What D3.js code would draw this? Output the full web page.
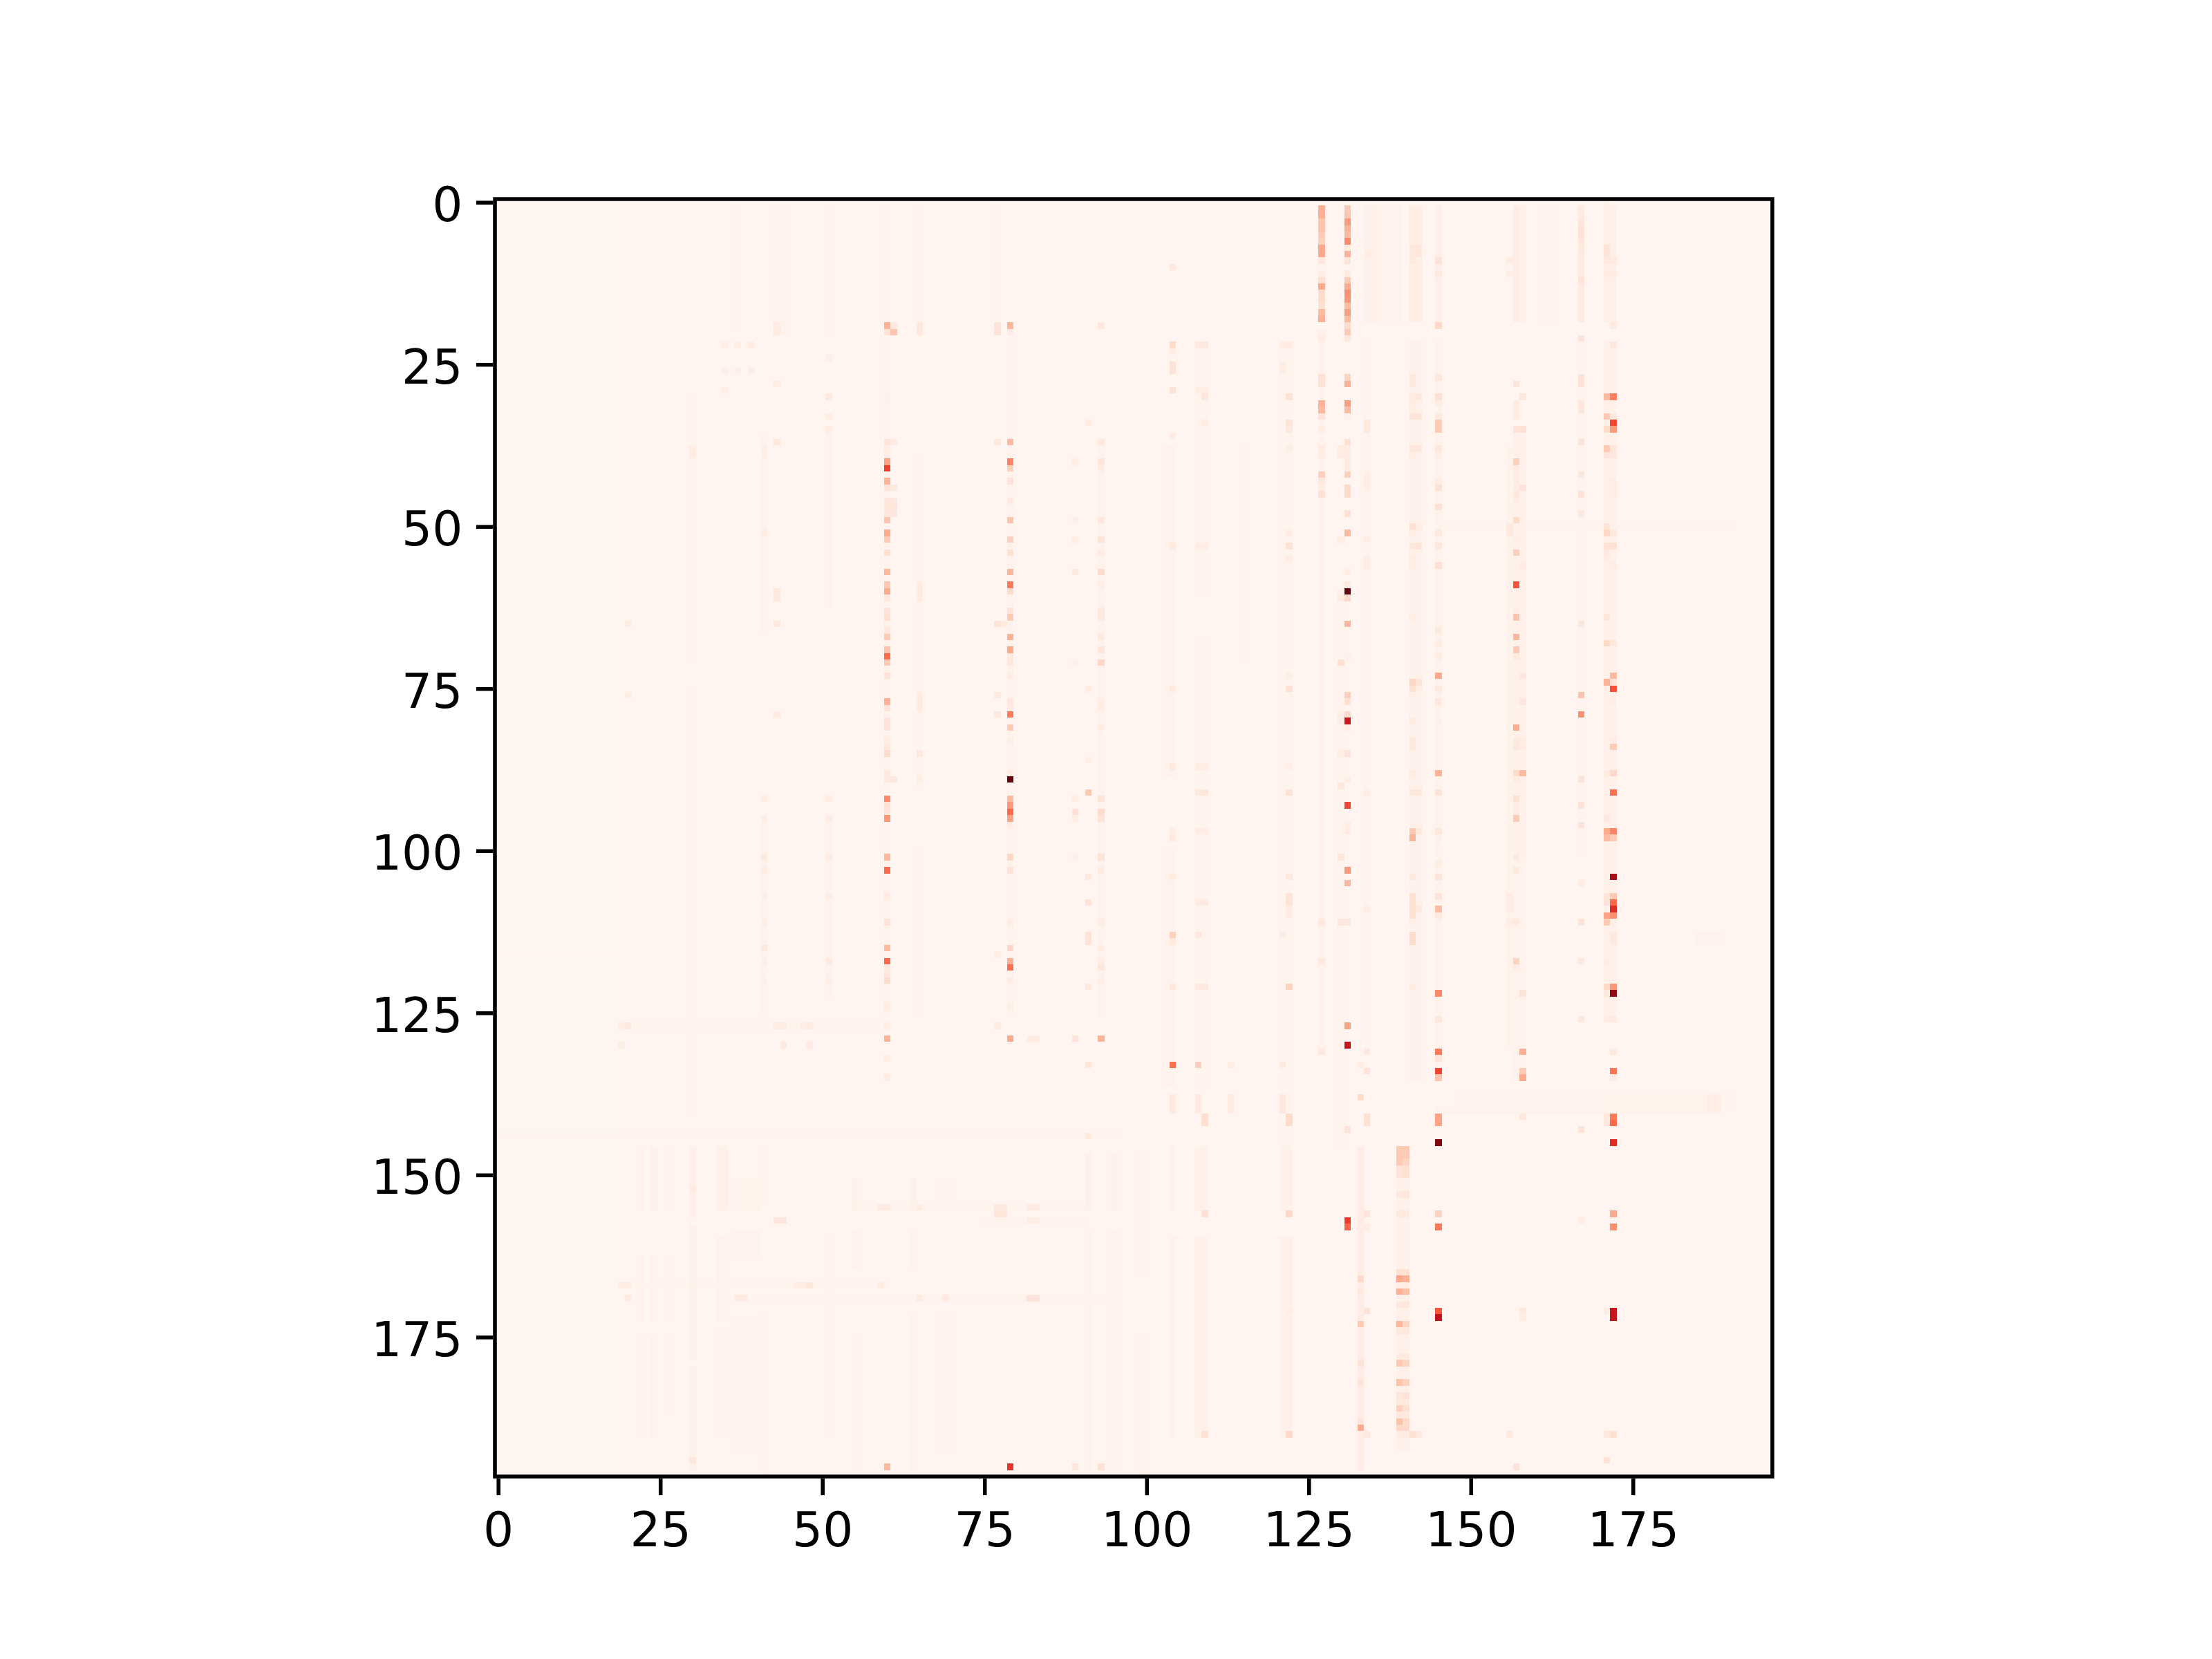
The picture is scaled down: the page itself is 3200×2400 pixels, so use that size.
<!DOCTYPE html>
<html>
<head>
<meta charset="utf-8">
<script src="https://cdn.jsdelivr.net/npm/d3@7"></script>
<style>
  html, body { margin: 0; padding: 0; background: #fff; }
  svg { display: block; }
  text { font-family: "DejaVu Sans", sans-serif; }
</style>
</head>
<body>
<svg id="chart" width="3200" height="2400"></svg>
<script>
// Matrix size and tick labels
const matrixSize = 197;
const tickLabels = [0, 25, 50, 75, 100, 125, 150, 175];

// Matplotlib "Reds" stops, evenly spaced on 0..1
const redsStops = ['#fff5f0', '#fee0d2', '#fcbba1', '#fc9272', '#fb6a4a', '#ef3b2c', '#cb181d', '#a50f15', '#67000d'];

// Faint blocks: [colFrom, colTo, rowFrom, rowTo, value]
const faintBlocks = [
  [20, 196, 0, 196, 0.005],
  // top rows
  [43, 44, 1, 20, 0.022], [37, 37, 1, 19, 0.01], [60, 60, 1, 20, 0.01], [65, 65, 1, 20, 0.02],
  [51, 51, 1, 20, 0.009], [77, 77, 1, 20, 0.012],
  [134, 135, 1, 18, 0.028], [136, 139, 1, 18, 0.016], [141, 142, 1, 18, 0.04], [145, 145, 1, 18, 0.035],
  [157, 157, 1, 18, 0.045], [158, 158, 1, 18, 0.025], [161, 163, 1, 18, 0.01], [167, 167, 1, 18, 0.065],
  [171, 172, 1, 18, 0.035],
  // middle rows, patchy
  [30, 30, 30, 70, 0.012], [30, 30, 75, 140, 0.012], [41, 41, 36, 66, 0.018], [41, 41, 95, 125, 0.018],
  [51, 51, 36, 62, 0.018], [51, 51, 95, 122, 0.018], [60, 60, 22, 90, 0.018], [60, 60, 96, 125, 0.018],
  [65, 65, 40, 90, 0.012], [65, 65, 100, 125, 0.012], [70, 70, 44, 80, 0.008], [79, 79, 22, 125, 0.02],
  [93, 93, 38, 125, 0.018],
  [103, 104, 38, 88, 0.015], [103, 104, 100, 136, 0.015], [108, 109, 22, 60, 0.012], [108, 109, 68, 136, 0.012],
  [115, 115, 38, 70, 0.012], [121, 122, 22, 145, 0.014], [127, 127, 22, 130, 0.022], [130, 130, 60, 145, 0.012],
  [134, 134, 22, 130, 0.014], [141, 142, 22, 135, 0.026], [145, 145, 22, 135, 0.02], [156, 156, 38, 130, 0.02],
  [157, 158, 36, 100, 0.028], [157, 158, 100, 135, 0.016], [167, 167, 22, 100, 0.014], [171, 172, 22, 125, 0.03],
  // lower rows, broken into patches
  [22, 22, 146, 155, 0.02], [22, 22, 163, 172, 0.015], [22, 22, 175, 190, 0.012],
  [24, 24, 146, 155, 0.03], [24, 24, 163, 172, 0.022], [24, 24, 175, 190, 0.018],
  [26, 26, 146, 155, 0.02], [26, 26, 163, 172, 0.015], [26, 26, 175, 186, 0.01],
  [30, 30, 146, 156, 0.035], [30, 30, 158, 178, 0.03], [30, 30, 180, 195, 0.03],
  [34, 35, 146, 155, 0.028], [34, 35, 160, 172, 0.018], [34, 35, 174, 190, 0.014],
  [37, 40, 151, 155, 0.02], [37, 40, 159, 162, 0.018], [37, 40, 173, 192, 0.01],
  [41, 41, 146, 154, 0.012], [41, 41, 172, 196, 0.012], [51, 51, 160, 190, 0.01],
  [55, 55, 151, 155, 0.03], [55, 55, 159, 164, 0.02], [55, 55, 175, 195, 0.02],
  [64, 64, 151, 155, 0.025], [64, 64, 159, 164, 0.018], [64, 64, 172, 195, 0.018],
  [68, 70, 151, 155, 0.018], [68, 70, 172, 192, 0.014],
  [91, 91, 147, 155, 0.025], [91, 91, 159, 172, 0.016], [91, 91, 173, 195, 0.018],
  [95, 95, 147, 155, 0.025], [95, 95, 159, 172, 0.018], [95, 95, 173, 195, 0.022],
  [99, 100, 147, 165, 0.012], [99, 100, 175, 196, 0.012],
  [104, 104, 146, 155, 0.028], [104, 104, 160, 190, 0.026], [108, 109, 146, 155, 0.028], [108, 109, 160, 190, 0.026],
  [121, 122, 146, 155, 0.028], [121, 122, 160, 190, 0.026], [133, 133, 146, 195, 0.045], [139, 140, 146, 192, 0.028],
  // rows that run across
  [148, 190, 138, 139, 0.01], [145, 186, 140, 140, 0.018], [172, 186, 138, 140, 0.02], [187, 188, 138, 140, 0.04],
  [145, 190, 50, 50, 0.012], [150, 190, 24, 24, 0.008], [185, 188, 113, 114, 0.022],
  [55, 90, 155, 155, 0.014], [75, 90, 157, 157, 0.012], [20, 60, 167, 167, 0.012], [40, 95, 169, 169, 0.012],
  [0, 95, 144, 144, 0.01], [19, 60, 127, 127, 0.012], [0, 40, 116, 116, 0.006]
];

// Columns with strong cells: [row, value]
const col60 = [[19, .27], [20, .1], [30, .03], [37, .1], [38, .04], [39, .04], [40, .33], [41, .62], [43, .27], [44, .1], [46, .09], [47, .09], [48, .08], [49, .22], [51, .3], [52, .2], [54, .12], [57, .26], [59, .2], [60, .3], [61, .08], [63, .1], [64, .12], [66, .08], [67, .2], [69, .22], [70, .5], [71, .2], [73, .1], [77, .28], [78, .1], [80, .1], [81, .1], [83, .05], [84, .08], [85, .14], [88, .07], [89, .07], [92, .4], [93, .12], [94, .1], [95, .36], [101, .25], [103, .5], [107, .06], [111, .1], [115, .25], [117, .5], [118, .08], [119, .08], [120, .14], [124, .05], [127, .04], [129, .27], [132, .04], [135, .05], [155, .06], [195, .25]];
const col79 = [[19, .26], [20, .06], [37, .25], [40, .42], [41, .18], [43, .1], [46, .06], [49, .22], [52, .17], [54, .12], [57, .26], [59, .45], [60, .14], [63, .1], [64, .2], [67, .28], [69, .3], [70, .08], [71, .08], [73, .06], [77, .08], [78, .06], [79, .45], [81, .2], [83, .04], [88, .06], [89, 1], [92, .25], [93, .35], [94, .5], [95, .32], [96, .05], [101, .15], [103, .1], [111, .06], [115, .15], [117, .28], [118, .48], [120, .06], [124, .04], [129, .3], [195, .65]];
const col127 = [[1, .28], [2, .28], [3, .22], [4, .22], [5, .2], [6, .18], [7, .3], [8, .3], [9, .08], [11, .04], [12, .12], [13, .3], [14, .14], [15, .14], [16, .12], [17, .25], [18, .28], [20, .03], [21, .06], [27, .12], [28, .1], [31, .27], [32, .25], [33, .1], [35, .05], [38, .05], [39, .05], [42, .18], [43, .07], [44, .05], [45, .12], [111, .08], [117, .07], [131, .07]];
const col131 = [[1, .2], [2, .22], [3, .35], [4, .28], [5, .25], [6, .4], [7, .08], [8, .28], [9, .1], [11, .06], [12, .2], [13, .3], [14, .38], [15, .36], [16, .25], [17, .34], [18, .25], [19, .14], [20, .2], [21, .08], [27, .17], [28, .28], [31, .34], [32, .25], [33, .03], [37, .12], [38, .06], [39, .06], [40, .06], [41, .06], [42, .18], [44, .14], [45, .14], [48, .12], [51, .25], [57, .05], [59, .07], [60, 1], [61, .15], [65, .26], [70, .03], [76, .18], [77, .12], [79, .14], [80, .75], [81, .05], [85, .1], [89, .05], [93, .6], [96, .05], [97, .06], [103, .35], [105, .26], [111, .08], [127, .33], [130, .78], [143, .1], [157, .62], [158, .52]];
const col145 = [[9, .1], [11, .07], [19, .15], [27, .08], [30, .12], [31, .05], [33, .07], [34, .2], [35, .2], [38, .08], [39, .04], [43, .05], [44, .12], [47, .12], [51, .07], [53, .08], [56, .12], [66, .07], [68, .05], [70, .05], [73, .3], [75, .07], [77, .08], [78, .03], [80, .03], [88, .27], [91, .1], [97, .09], [98, .03], [102, .05], [104, .1], [107, .1], [109, .24], [110, .07], [122, .4], [126, .08], [131, .45], [132, .1], [134, .6], [135, .22], [141, .32], [142, .32], [145, .95], [156, .17], [158, .45], [171, .55], [172, .8]];
const col157 = [[1, .05], [2, .05], [3, .05], [28, .1], [31, .06], [32, .06], [33, .06], [35, .1], [40, .18], [41, .06], [42, .06], [43, .06], [44, .05], [45, .08], [46, .06], [49, .14], [52, .04], [54, .18], [59, .55], [63, .06], [64, .22], [67, .26], [69, .2], [70, .07], [81, .3], [83, .07], [84, .08], [88, .14], [89, .06], [92, .12], [93, .06], [94, .06], [95, .2], [101, .07], [103, .07], [111, .07], [117, .17], [118, .05], [195, .1]];
const col158 = [[30, .08], [35, .12], [44, .1], [56, .06], [73, .08], [77, .08], [83, .05], [84, .05], [88, .25], [122, .1], [131, .28], [134, .2], [135, .3], [141, .08], [171, .07], [172, .05]];
const col167 = [[3, .09], [4, .1], [5, .1], [6, .09], [7, .07], [12, .1], [21, .1], [27, .1], [28, .1], [31, .09], [32, .09], [37, .1], [42, .09], [45, .1], [48, .07], [65, .09], [76, .22], [79, .38], [89, .1], [93, .1], [96, .1], [105, .06], [111, .1], [117, .07], [126, .08], [143, .1], [157, .05]];
const col171 = [[0, .03], [7, .1], [8, .1], [9, .07], [11, .06], [30, .25], [33, .2], [34, .04], [35, .14], [38, .2], [39, .1], [50, .1], [51, .15], [53, .1], [54, .08], [55, .05], [64, .09], [68, .15], [74, .27], [75, .05], [88, .06], [95, .08], [97, .3], [98, .25], [107, .1], [108, .1], [110, .33], [111, .2], [117, .05], [121, .15], [122, .08], [126, .05], [141, .08], [142, .08], [171, .05], [190, .08], [194, .1]];
const col172 = [[9, .07], [11, .06], [19, .07], [22, .08], [30, .43], [33, .08], [34, .6], [35, .35], [38, .08], [39, .08], [43, .05], [44, .05], [45, .05], [51, .07], [53, .12], [56, .05], [68, .07], [73, .25], [74, .1], [75, .57], [77, .04], [83, .06], [84, .2], [88, .15], [91, .48], [97, .42], [98, .2], [104, .87], [107, .2], [108, .5], [109, .68], [110, .38], [113, .07], [114, .07], [121, .36], [122, .92], [126, .07], [131, .08], [134, .47], [135, .06], [141, .45], [142, .5], [145, .68], [156, .3], [158, .38], [171, .77], [172, .77], [190, .12]];
const col139 = [[146, .2], [147, .2], [148, .2], [149, .1], [150, .1], [153, .08], [156, .07], [165, .12], [166, .3], [167, .04], [168, .28], [170, .08], [173, .26], [174, .08], [178, .06], [179, .2], [182, .22], [184, .09], [185, .07], [186, .17], [187, .07], [188, .22], [189, .15], [190, .05]];
const col140 = [[146, .2], [147, .2], [148, .16], [149, .12], [150, .12], [153, .08], [156, .07], [165, .12], [166, .27], [167, .04], [168, .24], [170, .08], [173, .16], [174, .08], [178, .07], [179, .16], [182, .17], [184, .1], [185, .07], [186, .12], [187, .07], [188, .14], [189, .14], [190, .06]];
const col141 = [[7, .08], [8, .08], [9, .07], [11, .05], [27, .08], [28, .08], [30, .06], [31, .05], [32, .05], [33, .1], [38, .09], [39, .05], [50, .12], [51, .05], [53, .08], [55, .05], [56, .05], [64, .05], [74, .16], [75, .12], [80, .06], [83, .08], [84, .08], [88, .06], [91, .09], [97, .2], [98, .27], [104, .07], [107, .12], [108, .12], [109, .12], [110, .12], [113, .14], [114, .14], [121, .06], [190, .12]];
const col142 = [[7, .09], [8, .09], [30, .07], [33, .1], [38, .08], [50, .04], [53, .1], [74, .1], [75, .05], [91, .09], [97, .09], [109, .07], [190, .08]];
const col122 = [[22, .06], [30, .1], [34, .1], [35, .07], [38, .04], [51, .05], [53, .1], [55, .05], [73, .04], [75, .12], [87, .04], [91, .1], [104, .07], [107, .1], [108, .1], [109, .05], [110, .05], [121, .17], [141, .14], [142, .14], [156, .15], [171, .05], [190, .15]];
const col104 = [[10, .07], [22, .14], [23, .05], [25, .1], [26, .1], [29, .1], [36, .06], [53, .07], [75, .07], [87, .07], [97, .05], [98, .07], [104, .06], [113, .17], [114, .07], [121, .08], [133, .48], [138, .07], [139, .07], [140, .07]];
const col93 = [[19, .08], [37, .07], [40, .09], [41, .05], [49, .08], [52, .1], [54, .06], [57, .14], [59, .04], [63, .07], [64, .07], [67, .07], [69, .09], [71, .15], [77, .05], [78, .05], [81, .05], [92, .1], [94, .14], [95, .1], [101, .1], [103, .06], [111, .05], [115, .05], [117, .05], [118, .08], [120, .04], [129, .27], [195, .12]];

const strongColumns = [
  [60, col60], [79, col79], [93, col93], [104, col104], [122, col122], [127, col127], [131, col131],
  [139, col139], [140, col140], [141, col141], [142, col142], [145, col145], [157, col157], [158, col158],
  [167, col167], [171, col171], [172, col172]
];

// Remaining single cells: [row, col, value]
const otherCells = [
  [19, 61, .08], [20, 61, .22], [37, 61, .06], [44, 61, .07], [46, 61, .07], [47, 61, .09], [48, 61, .08], [89, 61, .07],
  [19, 65, .08], [20, 65, .08], [59, 65, .06], [60, 65, .06], [61, 65, .06], [76, 65, .06], [77, 65, .06], [78, 65, .06], [85, 65, .08], [89, 65, .05],
  [19, 77, .1], [20, 77, .1], [37, 77, .07], [65, 77, .1], [76, 77, .07], [79, 77, .07], [65, 78, .06], [127, 77, .06], [116, 77, .05],
  [155, 77, .07], [155, 78, .07], [156, 77, .09], [156, 78, .09],
  [40, 89, .04], [49, 89, .04], [52, 89, .04], [57, 89, .07], [71, 89, .03], [92, 89, .04], [94, 89, .12], [95, 89, .05], [101, 89, .04], [129, 89, .1], [195, 89, .09],
  [34, 91, .05], [75, 91, .05], [86, 91, .04], [91, 91, .2], [104, 91, .07], [108, 91, .11], [113, 91, .1], [114, 91, .1], [121, 91, .07], [133, 91, .09], [144, 91, .07],
  [38, 30, .05], [39, 30, .05], [194, 30, .08], [152, 30, .06],
  [38, 41, .04], [39, 41, .04], [51, 41, .05], [92, 41, .05], [95, 41, .05], [101, 41, .07], [103, 41, .05], [107, 41, .04], [111, 41, .04], [115, 41, .08], [117, 41, .04], [120, 41, .03],
  [24, 51, .04], [30, 51, .07], [33, 51, .05], [35, 51, .05], [92, 51, .05], [95, 51, .06], [101, 51, .06], [107, 51, .05], [117, 51, .07], [120, 51, .04],
  [19, 43, .06], [20, 43, .06], [28, 43, .05], [37, 43, .07], [60, 43, .07], [61, 43, .07], [65, 43, .08], [79, 43, .06], [127, 43, .05], [127, 44, .05], [130, 44, .08], [157, 43, .09], [157, 44, .09],
  [65, 20, .05], [76, 20, .04], [127, 19, .04], [127, 20, .07], [130, 19, .05], [167, 19, .05], [167, 20, .05], [169, 20, .06],
  [127, 47, .04], [127, 48, .06], [130, 48, .06], [167, 46, .05], [167, 47, .05], [167, 48, .09],
  [22, 39, .05], [26, 39, .05], [22, 37, .04], [26, 37, .04], [22, 35, .04], [26, 35, .04], [29, 35, .04], [169, 37, .06], [169, 38, .06],
  [155, 82, .06], [155, 83, .06], [157, 82, .05], [157, 83, .05], [169, 82, .1], [169, 83, .1], [129, 82, .05], [129, 83, .05],
  [169, 69, .06], [155, 65, .06], [169, 65, .06], [155, 59, .06], [167, 59, .05],
  [22, 108, .07], [22, 109, .07], [29, 108, .05], [29, 109, .05], [30, 109, .09], [34, 109, .06], [53, 108, .05], [53, 109, .05], [87, 108, .05], [87, 109, .05], [91, 108, .07], [91, 109, .09],
  [97, 108, .05], [97, 109, .05], [108, 109, .07], [113, 108, .08], [121, 108, .07], [121, 109, .07], [133, 108, .18], [141, 109, .13], [142, 109, .13], [138, 108, .06], [139, 108, .06], [140, 108, .06], [156, 109, .12], [190, 109, .12], [108, 108, .06],
  [133, 113, .05], [138, 113, .06], [139, 113, .06], [140, 113, .06],
  [22, 121, .05], [25, 121, .05], [26, 121, .05], [113, 121, .06], [133, 121, .07], [138, 121, .08], [139, 121, .08], [140, 121, .08],
  [38, 130, .05], [39, 130, .05], [52, 130, .04], [60, 130, .03], [61, 130, .06], [71, 130, .12], [79, 130, .05], [80, 130, .05], [85, 130, .04], [90, 130, .08], [101, 130, .09], [111, 130, .08],
  [8, 134, .05], [34, 134, .08], [35, 134, .08], [42, 134, .05], [43, 134, .05], [44, 134, .05], [52, 134, .05], [55, 134, .05], [56, 134, .05], [91, 134, .05], [109, 134, .05], [131, 134, .08], [134, 134, .1], [141, 134, .12], [142, 134, .12], [156, 134, .1], [158, 134, .05], [171, 134, .1], [190, 134, .07],
  [133, 133, .05], [138, 133, .14], [166, 133, .14], [168, 133, .07], [173, 133, .2], [179, 133, .1], [182, 133, .1], [188, 133, .1], [189, 133, .3],
  [9, 156, .05], [11, 156, .05], [50, 156, .07], [51, 156, .07], [107, 156, .05], [108, 156, .05], [109, 156, .05], [111, 156, .05], [190, 156, .07]
];

const margin = { left: 716, top: 288, size: 1848 };
const tickLen = 24.3;
const lineW = 5.55;
const fontPx = 69.44;

const x = d3.scaleLinear().domain([-0.5, matrixSize - 0.5]).range([margin.left, margin.left + margin.size]);
const y = d3.scaleLinear().domain([-0.5, matrixSize - 0.5]).range([margin.top, margin.top + margin.size]);
const color = d3.scaleLinear()
  .domain(redsStops.map((c, i) => i / (redsStops.length - 1)))
  .range(redsStops)
  .interpolate(d3.interpolateRgb);

const svg = d3.select('#chart');

// Background of the matrix
svg.append('rect')
  .attr('x', x(-0.5)).attr('y', y(-0.5))
  .attr('width', margin.size).attr('height', margin.size)
  .attr('fill', color(0));

// Faint blocks first, weakest at the bottom
svg.append('g').attr('shape-rendering', 'crispEdges')
  .selectAll('rect')
  .data([...faintBlocks].sort((a, b) => a[4] - b[4]))
  .enter().append('rect')
  .attr('x', d => x(d[0] - 0.5))
  .attr('y', d => y(d[2] - 0.5))
  .attr('width', d => x(d[1] + 0.5) - x(d[0] - 0.5))
  .attr('height', d => y(d[3] + 0.5) - y(d[2] - 0.5))
  .attr('fill', d => color(d[4]));

// Single cells on top
const cells = otherCells.map(d => ({ row: d[0], col: d[1], value: d[2] }));
strongColumns.forEach(([col, rows]) => {
  rows.forEach(([row, value]) => cells.push({ row, col, value }));
});

svg.append('g').attr('shape-rendering', 'crispEdges')
  .selectAll('rect')
  .data(cells)
  .enter().append('rect')
  .attr('x', d => x(d.col - 0.5))
  .attr('y', d => y(d.row - 0.5))
  .attr('width', d => x(d.col + 0.5) - x(d.col - 0.5))
  .attr('height', d => y(d.row + 0.5) - y(d.row - 0.5))
  .attr('fill', d => color(d.value));

// Axes
const xAxis = d3.axisBottom(x).tickValues(tickLabels).tickSize(tickLen).tickPadding(tickLen).tickSizeOuter(0);
const yAxis = d3.axisLeft(y).tickValues(tickLabels).tickSize(tickLen).tickPadding(19.5).tickSizeOuter(0);

const gx = svg.append('g').attr('transform', `translate(0,${margin.top + margin.size + lineW / 2})`).call(xAxis);
const gy = svg.append('g').attr('transform', `translate(${margin.left - lineW / 2},0)`).call(yAxis);

[gx, gy].forEach(g => {
  g.select('.domain').remove();
  g.selectAll('.tick line').attr('stroke', '#000').attr('stroke-width', lineW);
  g.selectAll('.tick text')
    .attr('fill', '#000')
    .style('font-size', fontPx + 'px')
    .style('font-family', '"DejaVu Sans"');
});
gy.selectAll('.tick text').attr('dy', '0.39em');

// Frame
svg.append('rect')
  .attr('x', x(-0.5)).attr('y', y(-0.5))
  .attr('width', margin.size).attr('height', margin.size)
  .attr('fill', 'none')
  .attr('stroke', '#000')
  .attr('stroke-width', lineW);
</script>
</body>
</html>
